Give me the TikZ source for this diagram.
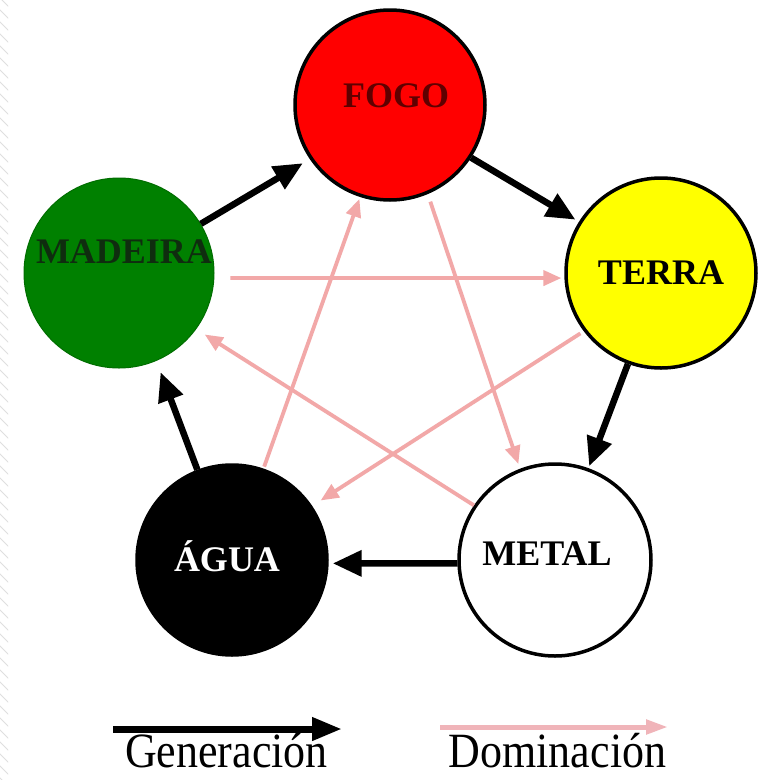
\documentclass[tikz,border=0pt]{standalone}
\usepackage{fontspec}
\usepackage{graphicx}
\setmainfont{Liberation Serif}
\usetikzlibrary{arrows.meta,calc}
\definecolor{fogored}{RGB}{255,0,0}
\definecolor{terrayel}{RGB}{255,255,0}
\definecolor{madgreen}{RGB}{0,128,0}
\definecolor{pinkarr}{RGB}{242,168,168}
\definecolor{pinkleg}{RGB}{240,180,185}
\definecolor{fogotext}{RGB}{95,0,0}
\definecolor{madtext}{RGB}{15,45,15}
\begin{document}
\begin{tikzpicture}[x=1pt,y=-1pt,
  elem/.style={circle, minimum size=190pt, inner sep=0pt, line width=3.5pt, draw=black},
  lbl/.style={anchor=base, inner sep=0pt, font=\fontsize{36}{36}\selectfont\bfseries},
  gen/.style={line width=6.5pt, black, -{Triangle[length=29pt,width=25pt]}},
  dom/.style={line width=3.8pt, pinkarr, -{Triangle[length=18pt,width=15pt]}},
  legtext/.style={anchor=base, inner sep=0pt, font=\fontsize{44}{44}\selectfont},
]
\useasboundingbox (0,0) rectangle (762,780);
\fill[white] (0,0) rectangle (762,780);
% faint hatched strip on the left edge
\begin{scope}
  \clip (0,0) rectangle (8,780);
  \foreach \k in {0,12,...,792}
    \draw[gray!25, line width=0.8pt] (-10,\k-12) -- (20,\k+18);
\end{scope}

% elements
\node[elem, fill=fogored] (fogo) at (390,105) {};
\node[elem, fill=terrayel] (terra) at (661,273) {};
\node[elem, fill=white, minimum size=192pt] (metal) at (555,560) {};
\node[elem, fill=black] (agua) at (232,560) {};
\node[elem, fill=madgreen, draw=madgreen!85!black, line width=1pt] (madeira) at (119,273) {};

% labels
\node[lbl, text=fogotext] (fogoT) at (396,107) {FOGO};
\node[lbl] (terraT) at (661,284) {TERRA};
\node[lbl] (metalT) at (547,565) {METAL};
\node[lbl, text=white] (aguaT) at (227,571) {ÁGUA};
\node[lbl, text=madtext] (madeiraT) at (124,263) {MADEIRA};

% domination (pink)
\draw[dom, shorten <=16pt, shorten >=3pt] (madeira.-3) -- (terra.183);
\draw[dom, shorten <=4pt, shorten >=10pt] (terra.217) -- (agua.34);
\draw[dom, shorten <=2pt, shorten >=2pt] (agua.71) -- (fogo.252);
\draw[dom, shorten <=8pt, shorten >=5pt] (fogo.293) -- (metal.111);
\draw[dom, shorten >=10pt] (metal.146) -- (madeira.-36);

% generation (black)
\draw[gen, shorten >=8pt] (madeira.31) -- (fogo.214);
\draw[gen, shorten >=4pt] (fogo.-33) -- (terra.148);
\draw[gen, shorten >=2pt] (terra.250) -- (metal.70);
\draw[gen, shorten >=4pt] (metal.182) -- (agua.-2);
\draw[gen, shorten >=12pt] (agua.111) -- (madeira.-67);

% legend
\coordinate (g1) at (113,729);
\coordinate (g2) at (342,729);
\draw[line width=7pt, black, -{Triangle[length=30pt,width=22pt]}] (g1) -- (g2);
\node[legtext] (genT) at (226.5,767) {\scalebox{1}[1.12]{Generación}};
\coordinate (d1) at (440,727);
\coordinate (d2) at (668,727);
\draw[line width=5pt, pinkleg, -{Triangle[length=22pt,width=14pt]}] (d1) -- (d2);
\node[legtext] (domT) at (557.5,767) {\scalebox{1}[1.12]{Dominación}};
\end{tikzpicture}
\end{document}
